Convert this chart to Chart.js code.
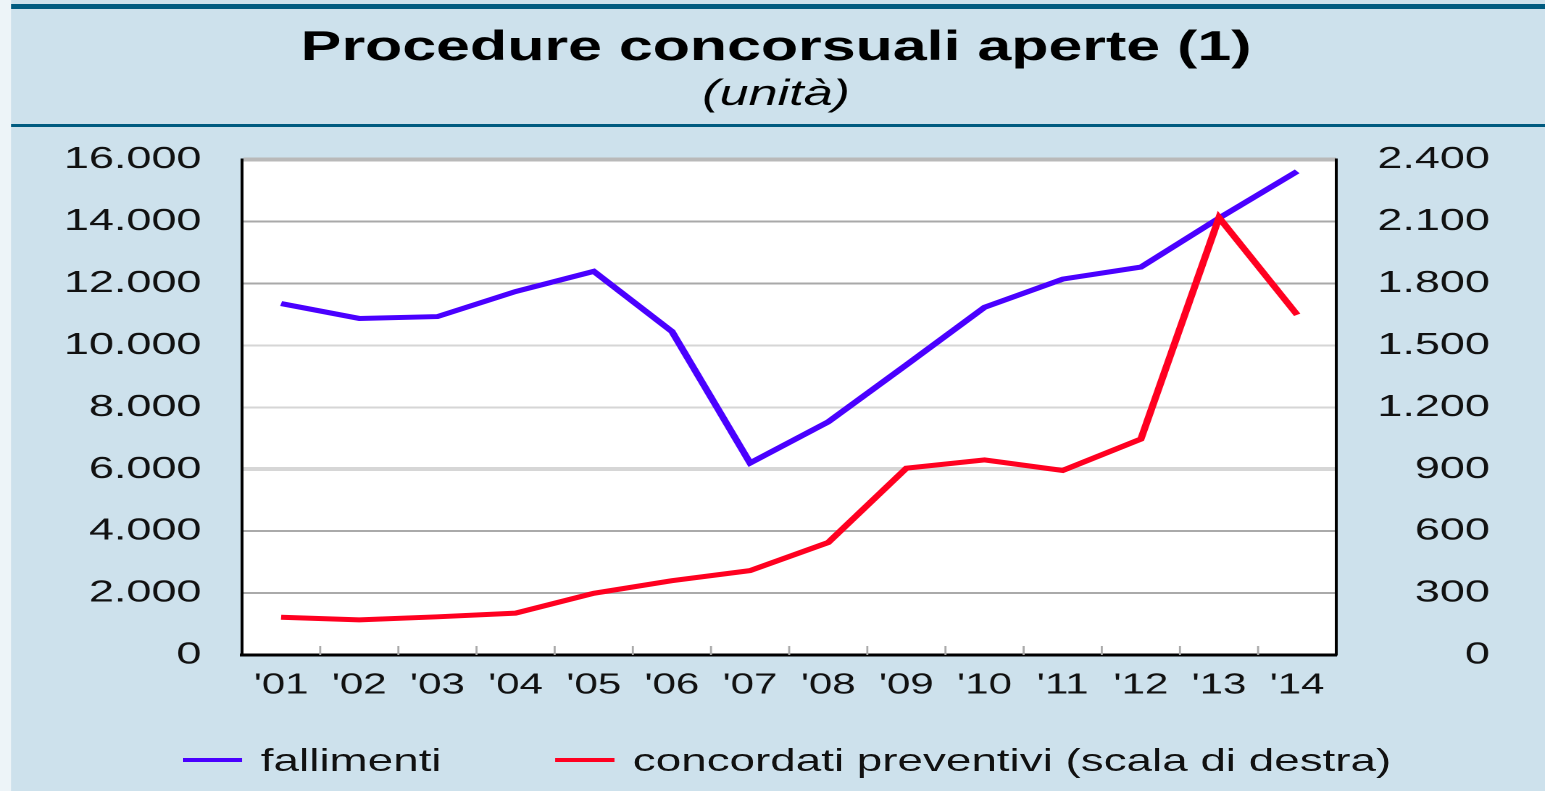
<!DOCTYPE html>
<html>
<head>
<meta charset="utf-8">
<script src="https://cdn.jsdelivr.net/npm/chart.js@4/dist/chart.umd.min.js"></script>
<style>
  html, body { margin: 0; padding: 0; overflow: hidden; background: #cde1ec; }
  #wrap { position: relative; width: 1066px; height: 791px; transform: scaleX(1.4493); transform-origin: 0 0; }
  #legend { position: absolute; left: 126px; top: 742px; display: flex; gap: 78px;
            font: 31.6px 'Liberation Sans', Arial, sans-serif; color: #111; line-height: 36px; white-space: nowrap; }
  #legend .item { display: flex; align-items: center; }
  #legend .swatch { display: inline-block; width: 41px; height: 4px; margin-right: 13px; }
</style>
</head>
<body>
<div id="wrap">
  <canvas id="chart" width="1066" height="791"></canvas>
  <div id="legend"></div>
</div>
<script>
// data
const years = ["'01", "'02", "'03", "'04", "'05", "'06", "'07", "'08", "'09", "'10", "'11", "'12", "'13", "'14"];
const fallimenti = [11350, 10870, 10930, 11740, 12390, 10450, 6200, 7530, 9370, 11230, 12140, 12530, 14110, 15620];
const concordati = [183, 170, 185, 203, 299, 360, 409, 545, 905, 945, 894, 1046, 2119, 1648];
const leftTicks = [0, 2000, 4000, 6000, 8000, 10000, 12000, 14000, 16000];
const rightTicks = [0, 300, 600, 900, 1200, 1500, 1800, 2100, 2400];

const FONT = "'Liberation Sans', Arial, sans-serif";
const fmt = v => String(v).replace(/\B(?=(\d{3})+(?!\d))/g, '.');

// grid shades as they come out in the reference
const gridColor = { 0: '#000', 2000: '#aaa', 4000: '#aaa', 6000: '#d6d6d6', 8000: '#d6d6d6', 10000: '#d6d6d6', 12000: '#a9a9a9', 14000: '#a9a9a9', 16000: '#b9b9b9' };

// background, header rules and white plot area
const frame = {
  id: 'frame',
  beforeDraw(chart) {
    const { ctx, width, chartArea: a } = chart;
    ctx.save();
    ctx.fillStyle = '#cde1ec';
    ctx.fillRect(0, 0, width, chart.height);
    ctx.fillStyle = '#edf4f8';
    ctx.fillRect(0, 0, 7.6, chart.height);
    ctx.fillStyle = '#005b80';
    ctx.fillRect(7.6, 4, width, 5);
    ctx.fillRect(7.6, 124, width, 3);
    ctx.fillStyle = '#fff';
    ctx.fillRect(a.left, a.top, a.right - a.left, a.bottom - a.top);
    ctx.restore();
  }
};

// small marks between the years, inside the plot
const yearTicks = {
  id: 'yearTicks',
  afterDatasetsDraw(chart) {
    const { ctx, chartArea: a, scales: { x } } = chart;
    ctx.save();
    ctx.strokeStyle = '#aaa';
    ctx.lineWidth = 1.4;
    for (let i = 1; i < years.length; i++) {
      const px = (x.getPixelForValue(i - 1) + x.getPixelForValue(i)) / 2;
      ctx.beginPath();
      ctx.moveTo(px, a.bottom - 9);
      ctx.lineTo(px, a.bottom);
      ctx.stroke();
    }
    ctx.restore();
  }
};

const chart = new Chart(document.getElementById('chart'), {
  type: 'line',
  data: {
    labels: years,
    datasets: [{
      label: 'fallimenti',
      data: fallimenti,
      yAxisID: 'y',
      borderColor: '#4a00ff',
      borderWidth: 5,
      pointRadius: 0,
      tension: 0,
      order: 1
    }, {
      label: 'concordati preventivi (scala di destra)',
      data: concordati,
      yAxisID: 'y1',
      borderColor: '#ff0020',
      borderWidth: 5,
      pointRadius: 0,
      tension: 0,
      order: 0
    }]
  },
  options: {
    responsive: false,
    animation: false,
    devicePixelRatio: 2,
    layout: { padding: { left: 43, right: 38, top: 0, bottom: 91 } },
    plugins: {
      title: {
        display: true,
        text: 'Procedure concorsuali aperte (1)',
        color: '#000',
        font: { family: FONT, size: 42, weight: 'bold' },
        padding: { top: 23, bottom: 0 }
      },
      subtitle: {
        display: true,
        text: '(unità)',
        color: '#000',
        font: { family: FONT, size: 36, style: 'italic', weight: 'normal' },
        padding: { top: 0, bottom: 43 }
      },
      legend: { display: false },
      tooltip: { enabled: false }
    },
    scales: {
      x: {
        type: 'category',
        offset: true,
        grid: { display: false },
        border: { color: '#000', width: 3 },
        ticks: { color: '#111', font: { family: FONT, size: 29 }, padding: 5, maxRotation: 0, autoSkip: false },
        afterFit: s => { s.height = 45; }
      },
      y: {
        position: 'left',
        min: 0,
        max: 16000,
        afterBuildTicks: s => { s.ticks = leftTicks.map(v => ({ value: v })); },
        afterFit: s => { s.width = 124; },
        grid: {
          drawTicks: false,
          color: c => gridColor[c.tick.value] || '#aaa',
          lineWidth: c => (c.tick.value === 16000 || c.tick.value === 6000) ? 4 : 2
        },
        border: { color: '#000', width: 2 },
        ticks: { color: '#111', font: { family: FONT, size: 31 }, padding: 28, callback: v => fmt(v) }
      },
      y1: {
        position: 'right',
        min: 0,
        max: 2400,
        afterBuildTicks: s => { s.ticks = rightTicks.map(v => ({ value: v })); },
        afterFit: s => { s.width = 106; },
        grid: { drawOnChartArea: false, drawTicks: false },
        border: { color: '#000', width: 2 },
        ticks: { color: '#111', font: { family: FONT, size: 31 }, padding: 28, crossAlign: 'far', callback: v => fmt(v) }
      }
    }
  },
  plugins: [frame, yearTicks]
});

// html legend built from the datasets
const legend = document.getElementById('legend');
chart.data.datasets.forEach(ds => {
  const item = document.createElement('div');
  item.className = 'item';
  const sw = document.createElement('span');
  sw.className = 'swatch';
  sw.style.background = ds.borderColor;
  item.appendChild(sw);
  item.appendChild(document.createTextNode(ds.label));
  legend.appendChild(item);
});
</script>
</body>
</html>
